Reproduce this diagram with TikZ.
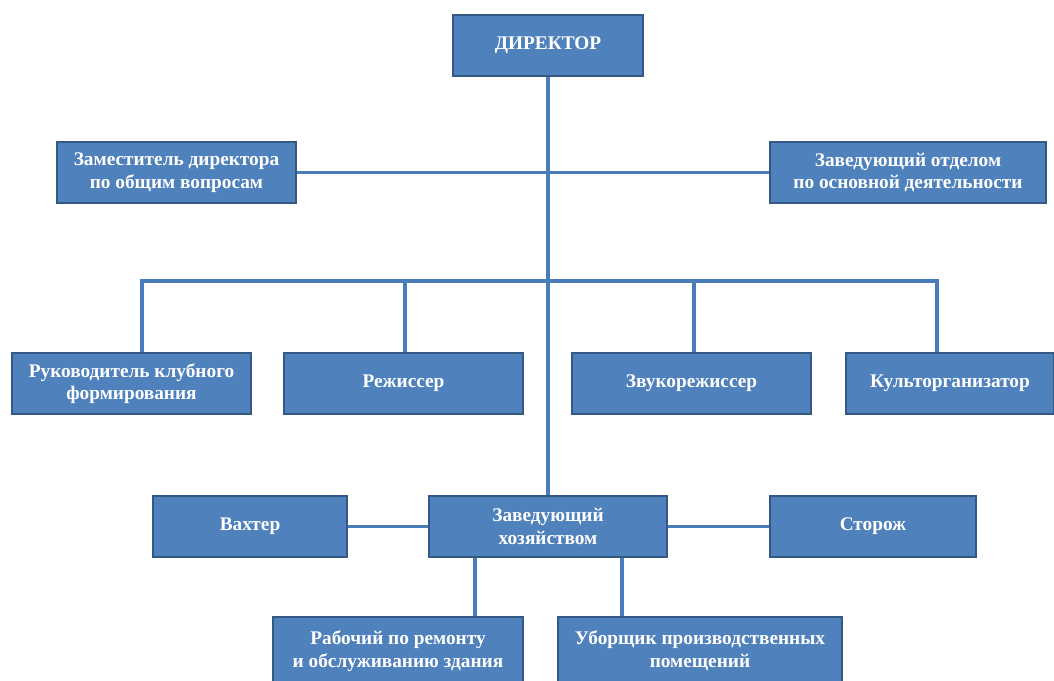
\documentclass[tikz,border=0pt]{standalone}
\usepackage{fontspec}
\setmainfont{Liberation Serif}
\usepackage{tikz}
\usetikzlibrary{calc}

\definecolor{boxblue}{RGB}{79,129,189}
\definecolor{boxedge}{RGB}{52,88,132}
\definecolor{lineblue}{RGB}{74,124,186}

\begin{document}
\begin{tikzpicture}[x=1pt,y=-1pt]
\tikzstyle{post}=[rectangle, draw=boxedge, line width=1.3pt, fill=boxblue, text=white, font=\bfseries\fontsize{19.3}{22.5}\selectfont, align=center, inner sep=0pt, minimum height=61pt]
\tikzstyle{connect}=[draw=lineblue, line width=3.5pt, line join=miter]

  \useasboundingbox (0,0) rectangle (1054,680);

  % top
  \node[post, minimum width=190pt] (dir) at (548,45.5) {ДИРЕКТОР};
  \node[post, minimum width=239pt] (zam) at (176.5,172.5) {Заместитель директора\\по общим вопросам};
  \node[post, minimum width=276pt] (zav) at (908,172.5) {Заведующий отделом\\по основной деятельности};

  % middle row
  \node[post, minimum width=239pt] (ruk)  at (131.5,383.5) {Руководитель клубного\\формирования};
  \node[post, minimum width=239pt] (rez)  at (403.5,383.5) {Режиссер};
  \node[post, minimum width=239pt] (zvuk) at (691.5,383.5) {Звукорежиссер};
  \node[post, minimum width=208pt] (kult) at (950,383.5) {Культорганизатор};

  % lower rows
  \node[post, minimum width=238pt] (zh)   at (548,526.5) {Заведующий\\хозяйством};
  \node[post, minimum width=194pt] (vah)  at (250,526.5) {Вахтер};
  \node[post, minimum width=206pt] (stor) at (873,526.5) {Сторож};
  \node[post, minimum width=250pt, minimum height=68pt] (rab) at (398,651) {Рабочий по ремонту\\и обслуживанию здания};
  \node[post, minimum width=284pt, minimum height=68pt] (ubor) at (700,651) {Уборщик производственных\\помещений};

  \coordinate (b1) at (142,281);
  \coordinate (b2) at (405,281);
  \coordinate (b3) at (694,281);
  \coordinate (b4) at (937,281);

  \path (dir) edge [connect] (zh)
        (zam) edge [connect] (zav)
        (vah) edge [connect] (zh)
        (zh)  edge [connect] (stor);

  \draw[connect] (b1 |- ruk.north) -- (b1) -- (b4) -- (b4 |- kult.north);
  \draw[connect] (b2) -- (b2 |- rez.north);
  \draw[connect] (b3) -- (b3 |- zvuk.north);

  \draw[connect] ([xshift=-73pt]zh.south) -- ([xshift=-73pt]zh.south |- rab.north);
  \draw[connect] ([xshift=74pt]zh.south) -- ([xshift=74pt]zh.south |- ubor.north);

\end{tikzpicture}
\end{document}
